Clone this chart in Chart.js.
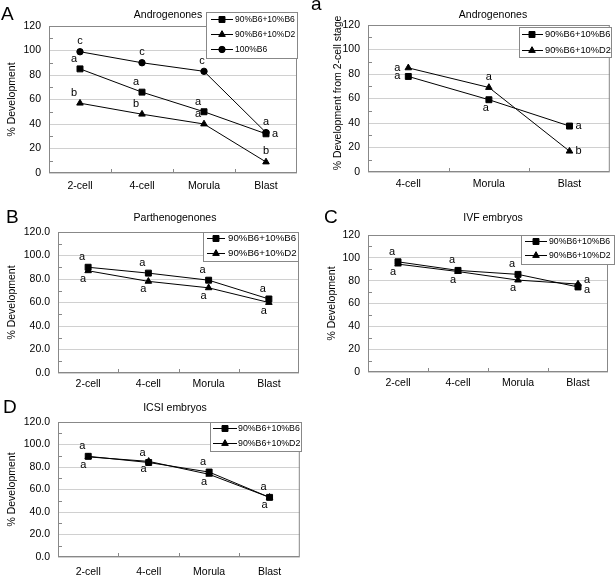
<!DOCTYPE html>
<html>
<head>
<meta charset="utf-8">
<script src="https://cdn.jsdelivr.net/npm/chart.js@4.4.0/dist/chart.umd.min.js"></script>
<style>
  body { margin: 0; background: #fff; }
  #wrap { position: relative; width: 615px; height: 578px; overflow: hidden; }
  #wrap canvas { position: absolute; }
</style>
</head>
<body>
<div id="wrap">
  <canvas id="cA"></canvas>
  <canvas id="ca"></canvas>
  <canvas id="cB"></canvas>
  <canvas id="cC"></canvas>
  <canvas id="cD"></canvas>
</div>
<script>
// Data
const stages      = ['2-cell', '4-cell', 'Morula', 'Blast'];
const stagesFrom2 = ['4-cell', 'Morula', 'Blast'];
const names       = ['90%B6+10%B6', '90%B6+10%D2', '100%B6'];
const yTicks      = [0, 20, 40, 60, 80, 100, 120];

// A - androgenones
const andro_b6   = [85, 66, 50, 32];
const andro_d2   = [57, 48, 40, 9];
const andro_100  = [99, 90, 83, 33];
const andro_b6_sig  = ['a', 'a', 'a', 'a'];
const andro_d2_sig  = ['b', 'b', 'a', 'b'];
const andro_100_sig = ['c', 'c', 'c', 'a'];

// a - androgenones, from 2-cell stage
const andro2_b6 = [78, 59, 37.5];
const andro2_d2 = [85, 69, 17];
const andro2_b6_sig = ['a', 'a', 'a'];
const andro2_d2_sig = ['a', 'a', 'b'];

// B - parthenogenones
const parth_b6 = [90, 85, 79, 63];
const parth_d2 = [87, 78, 72.5, 60];
// C - IVF
const ivf_b6 = [96.5, 89, 85.5, 74.5];
const ivf_d2 = [94.5, 88, 80.5, 77];
// D - ICSI
const icsi_b6 = [89.5, 84, 75.5, 53];
const icsi_d2 = [89, 85, 73.5, 53];
const allA = ['a', 'a', 'a', 'a'];

// --- styling / placement ---
const FONT = '"Liberation Sans", Arial, sans-serif';
Chart.defaults.font.family = FONT;
Chart.defaults.color = '#000';

const OFFS = { ul: [-6, -10], dl: [-5, 8], u: [0, -11], cm: [-2, -10], l: [-11, 0], r: [9, 0],
               d: [-3, 8], ur: [9, -4], dr: [9, 3] };
const MARKS = [{ style: 'rect', r: 4.2 }, { style: 'triangle', r: 3.8 }, { style: 'circle', r: 3.2 }];

function series (i, data, sig, pos) {
  return {
    label: names[i], data, sig, sigPos: pos,
    borderColor: '#000', backgroundColor: '#000', borderWidth: 1,
    pointStyle: MARKS[i].style, pointRadius: MARKS[i].r, pointHoverRadius: MARKS[i].r,
    pointBorderWidth: 1, tension: 0
  };
}

const panelDecor = {
  id: 'panelDecor',
  beforeDatasetsDraw (chart) {
    const { ctx, chartArea: a, scales: { x, y } } = chart;
    ctx.save();
    ctx.strokeStyle = '#888';
    ctx.lineWidth = 1;
    ctx.strokeRect(a.left + 0.5, a.top + 0.5, a.right - a.left - 1, a.bottom - a.top - 1);
    ctx.beginPath();
    for (let v = 10; v < 120; v += 20) {
      const py = Math.round(y.getPixelForValue(v)) + 0.5;
      ctx.moveTo(a.left, py); ctx.lineTo(a.left + 4, py);
    }
    const n = x.getLabels().length;
    for (let i = 0; i < n - 1; i++) {
      const px = Math.round((x.getPixelForValue(i) + x.getPixelForValue(i + 1)) / 2) + 0.5;
      ctx.moveTo(px, a.bottom); ctx.lineTo(px, a.bottom - 4);
    }
    ctx.stroke();
    ctx.restore();
  },
  afterDatasetsDraw (chart, args, o) {
    const { ctx, chartArea: a } = chart;
    ctx.save();
    // legend box
    const L = o.legend;
    ctx.fillStyle = '#fff';
    ctx.fillRect(L.x, L.y, L.w, L.h);
    ctx.strokeStyle = '#888';
    ctx.lineWidth = 1;
    ctx.strokeRect(L.x + 0.5, L.y + 0.5, L.w - 1, L.h - 1);
    ctx.fillStyle = '#000';
    ctx.strokeStyle = '#000';
    ctx.font = L.size + 'px ' + FONT;
    ctx.textAlign = 'left';
    ctx.textBaseline = 'middle';
    chart.data.datasets.forEach((ds, i) => {
      const ry = Math.round(L.y + L.first + i * L.gap) + 0.5;
      ctx.beginPath();
      ctx.moveTo(L.x + L.l0, ry); ctx.lineTo(L.x + L.l1, ry);
      ctx.stroke();
      Chart.helpers.drawPoint(ctx, { pointStyle: ds.pointStyle, radius: ds.pointRadius, rotation: 0, borderWidth: 1 }, L.x + L.mk, ry);
      ctx.fillText(ds.label, L.x + L.tx, ry);
    });
    // significance letters
    ctx.font = '11px ' + FONT;
    ctx.textAlign = 'center';
    chart.data.datasets.forEach((ds, i) => {
      chart.getDatasetMeta(i).data.forEach((el, j) => {
        const off = OFFS[ds.sigPos[j]];
        ctx.fillText(ds.sig[j], el.x + off[0], el.y + off[1]);
      });
    });
    // title, axis title, panel letter
    ctx.font = '10.5px ' + FONT;
    ctx.fillText(o.title, o.titleX, o.titleY);
    ctx.save();
    ctx.translate(o.axisX, o.axisY != null ? o.axisY : (a.top + a.bottom) / 2);
    ctx.rotate(-Math.PI / 2);
    ctx.fillText(o.axisTitle, 0, 0);
    ctx.restore();
    ctx.textAlign = 'left';
    ctx.textBaseline = 'alphabetic';
    ctx.font = '19px ' + FONT;
    ctx.fillText(o.letter, o.letterX, o.letterY);
    ctx.restore();
  }
};

function makePanel (id, box, plot, labels, datasets, decor, decimals, labelPad) {
  const cv = document.getElementById(id);
  cv.width = box.w; cv.height = box.h;
  cv.style.left = box.x + 'px'; cv.style.top = box.y + 'px';
  return new Chart(cv, {
    type: 'line',
    data: { labels, datasets },
    options: {
      responsive: false, animation: false, devicePixelRatio: 1,
      layout: { padding: { left: 0, top: plot.top, right: box.w - plot.right, bottom: 0 } },
      plugins: { legend: { display: false }, tooltip: { enabled: false }, panelDecor: decor },
      scales: {
        x: {
          offset: true,
          grid: { display: false, drawTicks: false },
          border: { display: false },
          ticks: { padding: labelPad, font: { size: 10.5 }, maxRotation: 0, autoSkip: false },
          afterFit: s => { s.height = box.h - plot.bottom; }
        },
        y: {
          min: yTicks[0], max: yTicks[yTicks.length - 1],
          afterBuildTicks: s => { s.ticks = yTicks.map(v => ({ value: v })); },
          grid: { color: '#d0d0d0', drawTicks: false },
          border: { display: false },
          ticks: { padding: 8, font: { size: 10.5 }, callback: v => decimals ? v.toFixed(1) : v },
          afterFit: s => { s.width = plot.left; }
        }
      }
    },
    plugins: [panelDecor]
  });
}

makePanel('cA', { x: 0, y: 0, w: 305, h: 200 }, { left: 49, top: 26, right: 297, bottom: 173 }, stages, [
  series(0, andro_b6, andro_b6_sig, ['ul', 'ul', 'ul', 'r']),
  series(1, andro_d2, andro_d2_sig, ['ul', 'ul', 'ul', 'u']),
  series(2, andro_100, andro_100_sig, ['u', 'u', 'cm', 'u'])
], { title: 'Androgenones', titleX: 168, titleY: 15, axisTitle: '% Development', axisX: 12,
     letter: 'A', letterX: 1, letterY: 20,
     legend: { x: 206, y: 12, w: 92, h: 47, first: 7, gap: 15, l0: 5, l1: 27, mk: 16, tx: 29, size: 8.5 } },
  false, 7);

makePanel('ca', { x: 305, y: 0, w: 310, h: 200 }, { left: 63, top: 25, right: 306, bottom: 172 }, stagesFrom2, [
  series(0, andro2_b6, andro2_b6_sig, ['l', 'd', 'r']),
  series(1, andro2_d2, andro2_d2_sig, ['l', 'u', 'r'])
], { title: 'Androgenones', titleX: 188, titleY: 15, axisTitle: '% Development from 2-cell stage', axisX: 33, axisY: 93,
     letter: 'a', letterX: 6, letterY: 10,
     legend: { x: 214, y: 27, w: 93, h: 31, first: 7, gap: 16, l0: 3, l1: 24, mk: 13, tx: 26, size: 9.3 } },
  false, 6);

makePanel('cB', { x: 0, y: 195, w: 305, h: 200 }, { left: 58, top: 37, right: 299, bottom: 178 }, stages, [
  series(0, parth_b6, allA, ['ul', 'ul', 'ul', 'ul']),
  series(1, parth_d2, allA, ['dl', 'dl', 'dl', 'dl'])
], { title: 'Parthenogenones', titleX: 175, titleY: 23, axisTitle: '% Development', axisX: 12,
     letter: 'B', letterX: 6, letterY: 28,
     legend: { x: 203, y: 37, w: 96, h: 30, first: 6, gap: 15, l0: 4, l1: 22, mk: 13, tx: 25, size: 9.7 } },
  true, 5);

makePanel('cC', { x: 305, y: 195, w: 310, h: 200 }, { left: 63, top: 40, right: 303, bottom: 177 }, stages, [
  series(0, ivf_b6, allA, ['ul', 'ul', 'ul', 'dr']),
  series(1, ivf_d2, allA, ['dl', 'dl', 'dl', 'ur'])
], { title: 'IVF embryos', titleX: 188, titleY: 23, axisTitle: '% Development', axisX: 27,
     letter: 'C', letterX: 19, letterY: 28,
     legend: { x: 216, y: 40, w: 94, h: 30, first: 6, gap: 14, l0: 4, l1: 26, mk: 15, tx: 28, size: 8.7 } },
  false, 5);

makePanel('cD', { x: 0, y: 385, w: 305, h: 193 }, { left: 58, top: 37, right: 300, bottom: 172 }, stages, [
  series(0, icsi_b6, allA, ['ul', 'ul', 'ul', 'ul']),
  series(1, icsi_d2, allA, ['dl', 'dl', 'dl', 'dl'])
], { title: 'ICSI embryos', titleX: 175, titleY: 23, axisTitle: '% Development', axisX: 12,
     letter: 'D', letterX: 3, letterY: 28,
     legend: { x: 210, y: 37, w: 92, h: 30, first: 6, gap: 15, l0: 3, l1: 27, mk: 15, tx: 28, size: 8.8 } },
  true, 9);
</script>
</body>
</html>
